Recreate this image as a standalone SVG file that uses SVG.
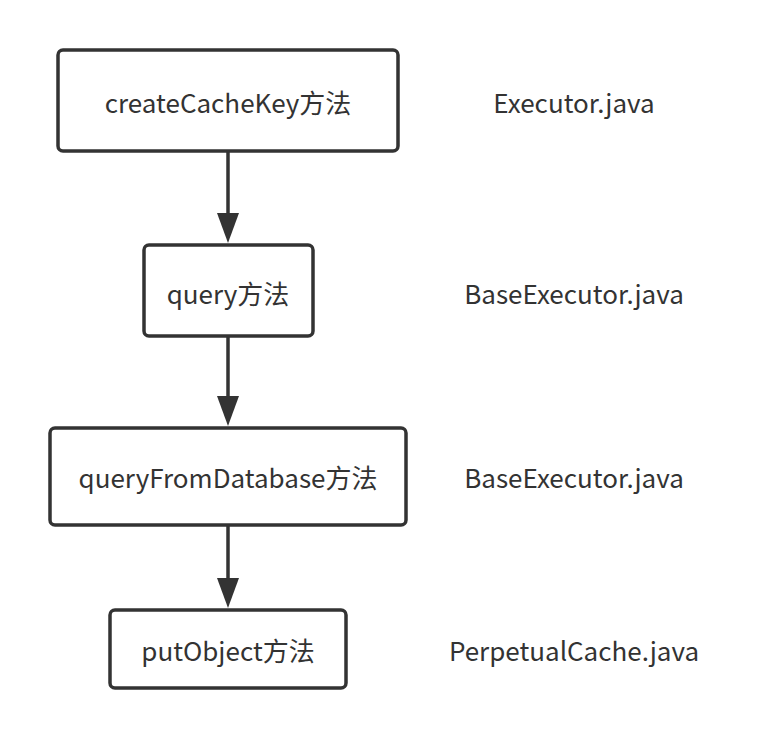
<svg xmlns="http://www.w3.org/2000/svg" width="779" height="739" viewBox="0 0 779 739">
<defs>
<style>
.node rect{fill:#fff;stroke:#333;stroke-width:3.5}
text{font-family:"Noto Sans CJK SC","Noto Sans",sans-serif;font-size:26px;fill:#333;text-anchor:middle;dominant-baseline:central}
.edge{stroke:#333;stroke-width:3.5;fill:none}
</style>
<marker id="arr" viewBox="0 0 30 22" refX="10" refY="11" markerUnits="userSpaceOnUse" markerWidth="30" markerHeight="22" orient="auto">
<path d="M0,0 L30,11 L0,22 Z" fill="#333"/>
</marker>
</defs>
<rect width="779" height="739" fill="#fff"/>
<g id="connectors">
<line class="edge" x1="228" y1="152" x2="228" y2="223" marker-end="url(#arr)"/>
<line class="edge" x1="228" y1="337" x2="228" y2="406" marker-end="url(#arr)"/>
<line class="edge" x1="228" y1="526" x2="228" y2="588" marker-end="url(#arr)"/>
</g>
<g id="n1" class="node"><rect x="58" y="50" width="340" height="101" rx="5"/><text x="228" y="101">createCacheKey方法</text></g>
<g id="n2" class="node"><rect x="144" y="245" width="169" height="91" rx="5"/><text x="228" y="292">query方法</text></g>
<g id="n3" class="node"><rect x="50" y="428" width="356" height="97" rx="5"/><text x="228" y="476">queryFromDatabase方法</text></g>
<g id="n4" class="node"><rect x="110" y="610" width="236" height="78" rx="5"/><text x="228" y="649">putObject方法</text></g>
<g id="labels">
<text x="574" y="101">Executor.java</text>
<text x="574" y="292">BaseExecutor.java</text>
<text x="574" y="476">BaseExecutor.java</text>
<text x="574" y="649">PerpetualCache.java</text>
</g>
</svg>
